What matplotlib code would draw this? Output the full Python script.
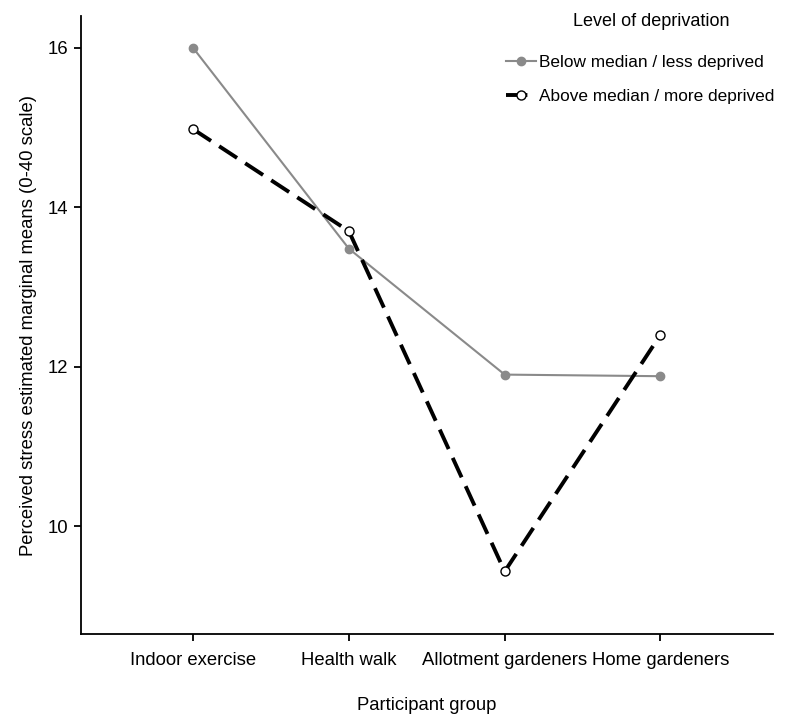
import matplotlib
matplotlib.use("Agg")
import matplotlib.pyplot as plt

groups = ["Indoor exercise", "Health walk", "Allotment gardeners", "Home gardeners"]
below_median = [16.0, 13.48, 11.9, 11.88]
above_median = [14.98, 13.7, 9.43, 12.4]

plt.rcParams['font.family'] = ['Liberation Sans', 'DejaVu Sans']

fig = plt.figure(figsize=(7.86, 7.15), dpi=100)
ax = fig.add_axes([0.103, 0.1133, 0.880, 0.8643])

x = range(len(groups))
ax.plot(x, below_median, color='#8a8a8a', lw=1.5, marker='o', ms=6,
        mfc='#8a8a8a', mec='#8a8a8a', label='Below median / less deprived')
ax.plot(x, above_median, color='black', lw=2.8, ls=(0, (5.5, 2.5)), marker='o', ms=6.5,
        mfc='white', mec='black', mew=1, label='Above median / more deprived')

ax.set_xlim(-0.72, 3.72)
ax.set_ylim(8.645, 16.40)
ax.set_xticks(list(x))
ax.set_xticklabels(groups)
ax.set_yticks([10, 12, 14, 16])
ax.tick_params(labelsize=13.3, length=5, width=1.3, pad=4)
ax.tick_params(axis='x', pad=8)
for s in ['top', 'right']:
    ax.spines[s].set_visible(False)
for s in ['left', 'bottom']:
    ax.spines[s].set_linewidth(1.3)

ax.set_xlabel('Participant group', fontsize=13.3, labelpad=20)
ax.set_ylabel('Perceived stress estimated marginal means (0-40 scale)', fontsize=13.3, labelpad=8)

# legend title drawn separately so the gap to the entries matches
fig.text(0.829, 0.970, 'Level of deprivation', fontsize=13, ha='center', va='center')
leg = ax.legend(loc='upper right', bbox_to_anchor=(1.025, 0.962),
                frameon=False, fontsize=12.4, handlelength=1.7,
                handletextpad=0.2, labelspacing=1.1)

fig.savefig('out.png', dpi=100)
